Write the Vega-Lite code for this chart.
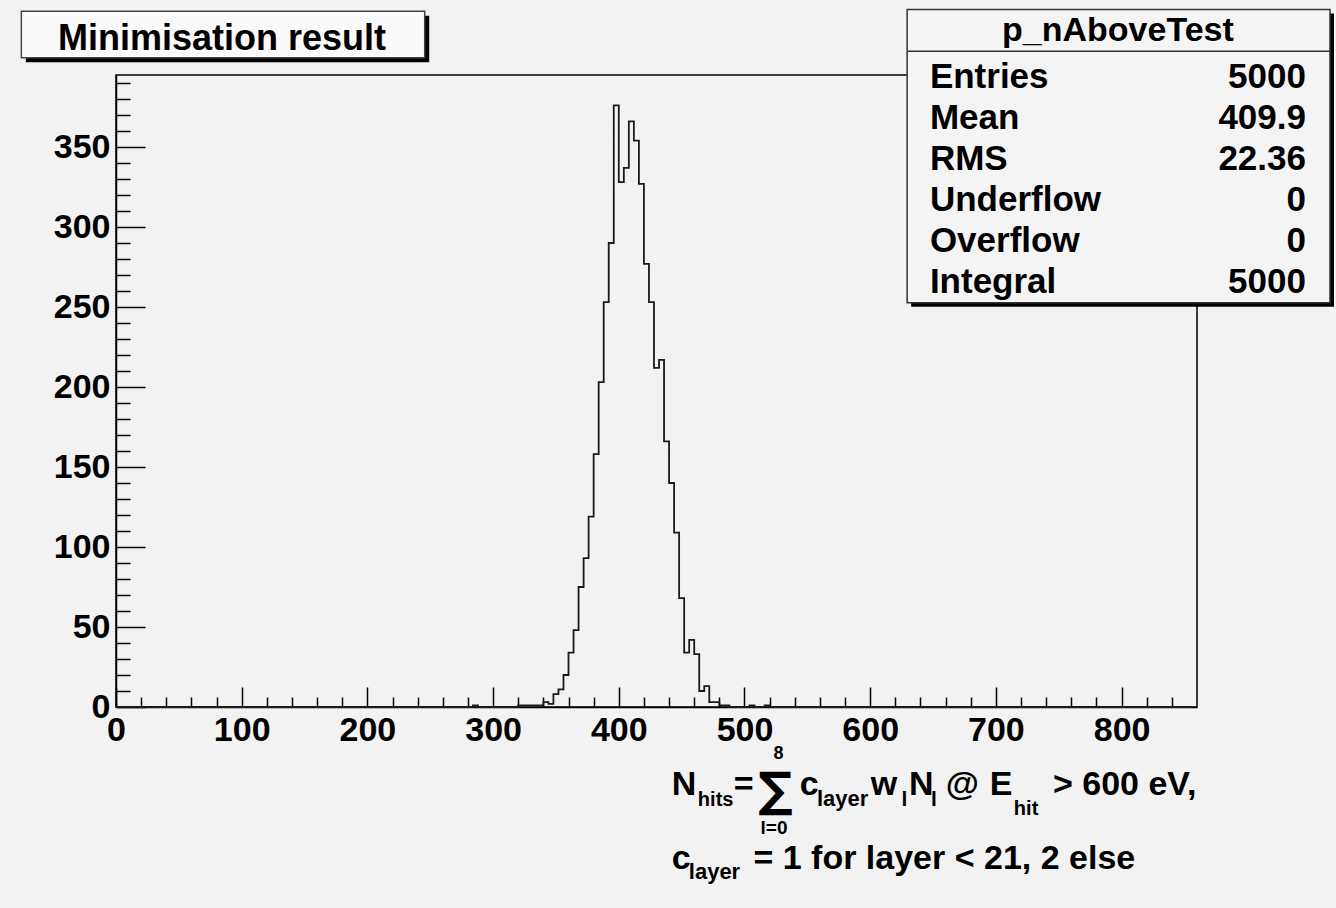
{
  "$schema": "https://vega.github.io/schema/vega-lite/v6.json",
  "width": 1081,
  "height": 632,
  "autosize": {"type": "none"},
  "padding": {"left": 116, "top": 75, "right": 139, "bottom": 201},
  "background": "#f2f2f2",
  "config": {
    "view": {"stroke": "#000", "strokeWidth": 1.5, "fill": "#f2f2f2"},
    "text": {"font": "Liberation Sans", "fontWeight": "bold", "color": "#000"}
  },
  "datasets": {
    "hist": [
      {"x":0,"n":0},{"x":4,"n":0},{"x":8,"n":0},{"x":12,"n":0},{"x":16,"n":0},{"x":20,"n":0},{"x":24,"n":0},{"x":28,"n":0},{"x":32,"n":0},{"x":36,"n":0},{"x":40,"n":0},{"x":44,"n":0},{"x":48,"n":0},{"x":52,"n":0},{"x":56,"n":0},{"x":60,"n":0},{"x":64,"n":0},{"x":68,"n":0},{"x":72,"n":0},{"x":76,"n":0},{"x":80,"n":0},{"x":84,"n":0},{"x":88,"n":0},{"x":92,"n":0},{"x":96,"n":0},{"x":100,"n":0},{"x":104,"n":0},{"x":108,"n":0},{"x":112,"n":0},{"x":116,"n":0},{"x":120,"n":0},{"x":124,"n":0},{"x":128,"n":0},{"x":132,"n":0},{"x":136,"n":0},{"x":140,"n":0},{"x":144,"n":0},{"x":148,"n":0},{"x":152,"n":0},{"x":156,"n":0},{"x":160,"n":0},{"x":164,"n":0},{"x":168,"n":0},{"x":172,"n":0},{"x":176,"n":0},{"x":180,"n":0},{"x":184,"n":0},{"x":188,"n":0},{"x":192,"n":0},{"x":196,"n":0},{"x":200,"n":0},{"x":204,"n":0},{"x":208,"n":0},{"x":212,"n":0},{"x":216,"n":0},{"x":220,"n":0},{"x":224,"n":0},{"x":228,"n":0},{"x":232,"n":0},{"x":236,"n":0},{"x":240,"n":0},{"x":244,"n":0},{"x":248,"n":0},{"x":252,"n":0},{"x":256,"n":0},{"x":260,"n":0},{"x":264,"n":0},{"x":268,"n":0},{"x":272,"n":0},{"x":276,"n":0},{"x":280,"n":0},
      {"x":284,"n":1},{"x":288,"n":0},{"x":292,"n":0},{"x":296,"n":0},{"x":300,"n":0},{"x":304,"n":0},{"x":308,"n":0},{"x":312,"n":0},{"x":316,"n":0},
      {"x":320,"n":1},{"x":324,"n":1},{"x":328,"n":1},{"x":332,"n":1},{"x":336,"n":1},{"x":340,"n":3},{"x":344,"n":2},{"x":348,"n":8},{"x":352,"n":11},{"x":356,"n":20},{"x":360,"n":34},{"x":364,"n":48},{"x":368,"n":75},{"x":372,"n":93},{"x":376,"n":119},{"x":380,"n":158},{"x":384,"n":203},{"x":388,"n":253},{"x":392,"n":290},{"x":396,"n":376},{"x":400,"n":328},{"x":404,"n":337},{"x":408,"n":366},{"x":412,"n":354},{"x":416,"n":327},{"x":420,"n":277},{"x":424,"n":253},{"x":428,"n":212},{"x":432,"n":217},{"x":436,"n":166},{"x":440,"n":140},{"x":444,"n":109},{"x":448,"n":68},{"x":452,"n":34},{"x":456,"n":42},{"x":460,"n":33},{"x":464,"n":10},{"x":468,"n":13},{"x":472,"n":3},{"x":476,"n":3},{"x":480,"n":1},{"x":484,"n":1},
      {"x":488,"n":0},{"x":492,"n":0},{"x":496,"n":0},{"x":500,"n":0},{"x":504,"n":1},{"x":508,"n":0},{"x":512,"n":0},{"x":516,"n":1},
      {"x":520,"n":0},{"x":524,"n":0},{"x":528,"n":0},{"x":532,"n":0},{"x":536,"n":0},{"x":540,"n":0},{"x":544,"n":0},{"x":548,"n":0},{"x":552,"n":0},{"x":556,"n":0},{"x":560,"n":0},{"x":564,"n":0},{"x":568,"n":0},{"x":572,"n":0},{"x":576,"n":0},{"x":580,"n":0},{"x":584,"n":0},{"x":588,"n":0},{"x":592,"n":0},{"x":596,"n":0},{"x":600,"n":0},{"x":604,"n":0},{"x":608,"n":0},{"x":612,"n":0},{"x":616,"n":0},{"x":620,"n":0},{"x":624,"n":0},{"x":628,"n":0},{"x":632,"n":0},{"x":636,"n":0},{"x":640,"n":0},{"x":644,"n":0},{"x":648,"n":0},{"x":652,"n":0},{"x":656,"n":0},{"x":660,"n":0},{"x":664,"n":0},{"x":668,"n":0},{"x":672,"n":0},{"x":676,"n":0},{"x":680,"n":0},{"x":684,"n":0},{"x":688,"n":0},{"x":692,"n":0},{"x":696,"n":0},{"x":700,"n":0},{"x":704,"n":0},{"x":708,"n":0},{"x":712,"n":0},{"x":716,"n":0},{"x":720,"n":0},{"x":724,"n":0},{"x":728,"n":0},{"x":732,"n":0},{"x":736,"n":0},{"x":740,"n":0},{"x":744,"n":0},{"x":748,"n":0},{"x":752,"n":0},{"x":756,"n":0},{"x":760,"n":0},{"x":764,"n":0},{"x":768,"n":0},{"x":772,"n":0},{"x":776,"n":0},{"x":780,"n":0},{"x":784,"n":0},{"x":788,"n":0},{"x":792,"n":0},{"x":796,"n":0},{"x":800,"n":0},{"x":804,"n":0},{"x":808,"n":0},{"x":812,"n":0},{"x":816,"n":0},{"x":820,"n":0},{"x":824,"n":0},{"x":828,"n":0},{"x":832,"n":0},{"x":836,"n":0},{"x":840,"n":0},{"x":844,"n":0},{"x":848,"n":0},{"x":852,"n":0},{"x":856,"n":0}
    ],
    "stats": [
      {"name": "Entries", "value": "5000"},
      {"name": "Mean", "value": "409.9"},
      {"name": "RMS", "value": "22.36"},
      {"name": "Underflow", "value": "0"},
      {"name": "Overflow", "value": "0"},
      {"name": "Integral", "value": "5000"}
    ]
  },
  "layer": [
    {
      "data": {"name": "hist"},
      "mark": {"type": "line", "interpolate": "step-after", "color": "#1a1a1a", "strokeWidth": 1.8},
      "encoding": {
        "x": {
          "field": "x", "type": "quantitative",
          "scale": {"domain": [0, 860], "nice": false, "zero": false},
          "axis": {
            "title": null, "grid": false, "tickCount": 500,
            "values": [0,20,40,60,80,100,120,140,160,180,200,220,240,260,280,300,320,340,360,380,400,420,440,460,480,500,520,540,560,580,600,620,640,660,680,700,720,740,760,780,800,820,840],
            "labelExpr": "datum.value % 100 === 0 ? datum.label : ''",
            "domainColor": "#000", "domainWidth": 1.5,
            "tickColor": "#000", "tickWidth": 1.5,
            "tickSize": {"condition": {"test": "datum.value % 100 === 0", "value": -20}, "value": -10},
            "labelFont": "Liberation Sans", "labelFontWeight": "bold", "labelFontSize": 34, "labelColor": "#000",
            "labelPadding": 26, "labelOverlap": false, "labelFlush": false, "labelBound": false
          }
        },
        "y": {
          "field": "n", "type": "quantitative",
          "scale": {"domain": [0, 395], "nice": false, "zero": false},
          "axis": {
            "title": null, "grid": false, "tickCount": 500,
            "values": [0,10,20,30,40,50,60,70,80,90,100,110,120,130,140,150,160,170,180,190,200,210,220,230,240,250,260,270,280,290,300,310,320,330,340,350,360,370,380,390],
            "labelExpr": "datum.value % 50 === 0 ? datum.label : ''",
            "domainColor": "#000", "domainWidth": 1.5,
            "tickColor": "#000", "tickWidth": 1.5,
            "tickSize": {"condition": {"test": "datum.value % 50 === 0", "value": -29}, "value": -14},
            "labelFont": "Liberation Sans", "labelFontWeight": "bold", "labelFontSize": 34, "labelColor": "#000",
            "labelPadding": 35, "labelOverlap": false, "labelFlush": false, "labelBound": false
          }
        }
      }
    },
    {
      "data": {"values": [{}]},
      "mark": {"type": "rect", "fill": "#000"},
      "encoding": {"x": {"datum": -71.7}, "x2": {"datum": 249.2}, "y": {"datum": 432.1}, "y2": {"datum": 402.95}}
    },
    {
      "data": {"values": [{}]},
      "mark": {"type": "rect", "fill": "#fafafa", "stroke": "#444", "strokeWidth": 1.5},
      "encoding": {"x": {"datum": -75.3}, "x2": {"datum": 245.6}, "y": {"datum": 434.9}, "y2": {"datum": 405.75}}
    },
    {
      "data": {"values": [{}]},
      "mark": {"type": "text", "align": "center", "baseline": "alphabetic", "fontSize": 36, "font": "Liberation Sans", "fontWeight": "bold", "color": "#000"},
      "encoding": {"x": {"datum": 84.3}, "y": {"datum": 410.9}, "text": {"value": "Minimisation result"}}
    },
    {
      "data": {"values": [{}]},
      "mark": {"type": "rect", "fill": "#000"},
      "encoding": {"x": {"datum": 632.6}, "x2": {"datum": 969.0}, "y": {"datum": 433.4}, "y2": {"datum": 250.1}}
    },
    {
      "data": {"values": [{}]},
      "mark": {"type": "rect", "fill": "#f4f4f4", "stroke": "#333", "strokeWidth": 1.5},
      "encoding": {"x": {"datum": 629.4}, "x2": {"datum": 965.8}, "y": {"datum": 435.9}, "y2": {"datum": 252.6}}
    },
    {
      "data": {"values": [{}]},
      "mark": {"type": "rule", "color": "#333", "strokeWidth": 1.5},
      "encoding": {"x": {"datum": 629.4}, "x2": {"datum": 965.8}, "y": {"datum": 409.9}}
    },
    {
      "data": {"values": [{}]},
      "mark": {"type": "text", "align": "center", "baseline": "alphabetic", "fontSize": 34, "font": "Liberation Sans", "fontWeight": "bold", "color": "#000"},
      "encoding": {"x": {"datum": 797.1}, "y": {"datum": 416.1}, "text": {"value": "p_nAboveTest"}}
    },
    {
      "data": {"name": "stats"},
      "mark": {"type": "text", "align": "left", "baseline": "alphabetic", "fontSize": 35, "font": "Liberation Sans", "fontWeight": "bold", "color": "#000"},
      "encoding": {
        "x": {"datum": 647.5},
        "y": {"datum": 387.0},
        "yOffset": {"field": "name", "type": "nominal", "sort": null, "scale": {"type": "point", "range": [0, 205.5], "padding": 0}},
        "text": {"field": "name"}
      }
    },
    {
      "data": {"name": "stats"},
      "mark": {"type": "text", "align": "right", "baseline": "alphabetic", "fontSize": 35, "font": "Liberation Sans", "fontWeight": "bold", "color": "#000"},
      "encoding": {
        "x": {"datum": 946.7},
        "y": {"datum": 387.0},
        "yOffset": {"field": "name", "type": "nominal", "sort": null, "scale": {"type": "point", "range": [0, 205.5], "padding": 0}},
        "text": {"field": "value"}
      }
    },
    {"data": {"values": [{}]}, "mark": {"type": "text", "align": "left", "baseline": "alphabetic", "fontSize": 34, "font": "Liberation Sans", "fontWeight": "bold", "color": "#000"},
     "encoding": {"x": {"datum": 442.2}, "y": {"datum": -54.69}, "text": {"value": "N"}}},
    {"data": {"values": [{}]}, "mark": {"type": "text", "align": "left", "baseline": "alphabetic", "fontSize": 20, "font": "Liberation Sans", "fontWeight": "bold", "color": "#000"},
     "encoding": {"x": {"datum": 462.9}, "y": {"datum": -62.0}, "text": {"value": "hits"}}},
    {"data": {"values": [{}]}, "mark": {"type": "text", "align": "left", "baseline": "alphabetic", "fontSize": 34, "font": "Liberation Sans", "fontWeight": "bold", "color": "#000"},
     "encoding": {"x": {"datum": 491.5}, "y": {"datum": -54.69}, "text": {"value": "="}}},
    {"data": {"values": [{}]}, "mark": {"type": "text", "align": "center", "baseline": "alphabetic", "fontSize": 48, "font": "DejaVu Sans", "fontWeight": "bold", "color": "#000"},
     "encoding": {"x": {"datum": 524.6}, "y": {"datum": -61.8}, "text": {"value": "∑"}}},
    {"data": {"values": [{}]}, "mark": {"type": "text", "align": "center", "baseline": "alphabetic", "fontSize": 18, "font": "Liberation Sans", "fontWeight": "bold", "color": "#000"},
     "encoding": {"x": {"datum": 527.0}, "y": {"datum": -32.6}, "text": {"value": "8"}}},
    {"data": {"values": [{}]}, "mark": {"type": "text", "align": "center", "baseline": "alphabetic", "fontSize": 19, "font": "Liberation Sans", "fontWeight": "bold", "color": "#000"},
     "encoding": {"x": {"datum": 523.5}, "y": {"datum": -79.6}, "text": {"value": "l=0"}}},
    {"data": {"values": [{}]}, "mark": {"type": "text", "align": "left", "baseline": "alphabetic", "fontSize": 34, "font": "Liberation Sans", "fontWeight": "bold", "color": "#000"},
     "encoding": {"x": {"datum": 544.0}, "y": {"datum": -54.69}, "text": {"value": "c"}}},
    {"data": {"values": [{}]}, "mark": {"type": "text", "align": "left", "baseline": "alphabetic", "fontSize": 22, "font": "Liberation Sans", "fontWeight": "bold", "color": "#000"},
     "encoding": {"x": {"datum": 557.6}, "y": {"datum": -62.0}, "text": {"value": "layer"}}},
    {"data": {"values": [{}]}, "mark": {"type": "text", "align": "left", "baseline": "alphabetic", "fontSize": 34, "font": "Liberation Sans", "fontWeight": "bold", "color": "#000"},
     "encoding": {"x": {"datum": 600.5}, "y": {"datum": -54.69}, "text": {"value": "w"}}},
    {"data": {"values": [{}]}, "mark": {"type": "text", "align": "left", "baseline": "alphabetic", "fontSize": 21, "font": "Liberation Sans", "fontWeight": "bold", "color": "#000"},
     "encoding": {"x": {"datum": 624.9}, "y": {"datum": -62.0}, "text": {"value": "l"}}},
    {"data": {"values": [{}]}, "mark": {"type": "text", "align": "left", "baseline": "alphabetic", "fontSize": 34, "font": "Liberation Sans", "fontWeight": "bold", "color": "#000"},
     "encoding": {"x": {"datum": 630.8}, "y": {"datum": -54.69}, "text": {"value": "N"}}},
    {"data": {"values": [{}]}, "mark": {"type": "text", "align": "left", "baseline": "alphabetic", "fontSize": 21, "font": "Liberation Sans", "fontWeight": "bold", "color": "#000"},
     "encoding": {"x": {"datum": 648.3}, "y": {"datum": -62.0}, "text": {"value": "l"}}},
    {"data": {"values": [{}]}, "mark": {"type": "text", "align": "left", "baseline": "alphabetic", "fontSize": 34, "font": "Liberation Sans", "fontWeight": "bold", "color": "#000"},
     "encoding": {"x": {"datum": 660.2}, "y": {"datum": -54.69}, "text": {"value": "@"}}},
    {"data": {"values": [{}]}, "mark": {"type": "text", "align": "left", "baseline": "alphabetic", "fontSize": 34, "font": "Liberation Sans", "fontWeight": "bold", "color": "#000"},
     "encoding": {"x": {"datum": 695.2}, "y": {"datum": -54.69}, "text": {"value": "E"}}},
    {"data": {"values": [{}]}, "mark": {"type": "text", "align": "left", "baseline": "alphabetic", "fontSize": 20, "font": "Liberation Sans", "fontWeight": "bold", "color": "#000"},
     "encoding": {"x": {"datum": 714.3}, "y": {"datum": -67.19}, "text": {"value": "hit"}}},
    {"data": {"values": [{}]}, "mark": {"type": "text", "align": "left", "baseline": "alphabetic", "fontSize": 34, "font": "Liberation Sans", "fontWeight": "bold", "color": "#000"},
     "encoding": {"x": {"datum": 745.4}, "y": {"datum": -54.69}, "text": {"value": "> 600 eV,"}}},
    {"data": {"values": [{}]}, "mark": {"type": "text", "align": "left", "baseline": "alphabetic", "fontSize": 34, "font": "Liberation Sans", "fontWeight": "bold", "color": "#000"},
     "encoding": {"x": {"datum": 442.2}, "y": {"datum": -101.56}, "text": {"value": "c"}}},
    {"data": {"values": [{}]}, "mark": {"type": "text", "align": "left", "baseline": "alphabetic", "fontSize": 22, "font": "Liberation Sans", "fontWeight": "bold", "color": "#000"},
     "encoding": {"x": {"datum": 455.7}, "y": {"datum": -107.8}, "text": {"value": "layer"}}},
    {"data": {"values": [{}]}, "mark": {"type": "text", "align": "left", "baseline": "alphabetic", "fontSize": 34, "font": "Liberation Sans", "fontWeight": "bold", "color": "#000"},
     "encoding": {"x": {"datum": 507.1}, "y": {"datum": -101.56}, "text": {"value": "= 1 for layer < 21, 2 else"}}}
  ]
}
